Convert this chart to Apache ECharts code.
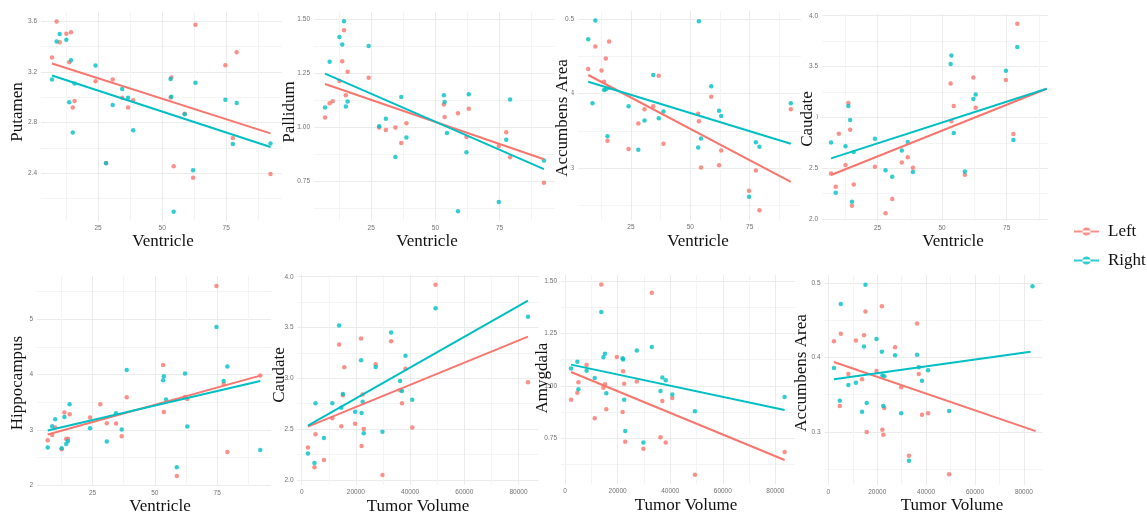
<!DOCTYPE html>
<html><head><meta charset="utf-8">
<script src="https://cdn.jsdelivr.net/npm/echarts@6/dist/echarts.min.js"></script>
<style>html,body{margin:0;padding:0;background:#fff}#c{width:1147px;height:514px}</style>
</head><body><div id="c"></div>
<script>
// ---------- data ----------
const seriesNames = ['Left', 'Right'];
const ventricle = [7.0, 8.8, 10.0, 12.6, 13.7, 14.4, 15.1, 15.8, 24.0, 28.1, 30.7, 34.4, 36.7, 38.7, 53.3, 53.6, 54.5, 58.8, 62.1, 63.0, 74.7, 77.6, 79.1, 92.3];
const tumorVolume = [2300, 4700, 5100, 8200, 11300, 13800, 14600, 15200, 15700, 19700, 21900, 22100, 22500, 22900, 27300, 29800, 33000, 36300, 37000, 38300, 40800, 49400, 83500];

const putamenLeft  = [3.315, 3.600, 3.436, 3.502, 3.278, 3.515, 2.918, 2.971, 3.127, 2.479, 3.140, 2.995, 2.918, 2.976, 2.997, 3.156, 2.453, 2.870, 2.363, 3.574, 3.254, 2.677, 3.357, 2.392];
const putamenRight = [3.140, 3.441, 3.500, 3.455, 2.960, 3.293, 2.720, 3.108, 3.251, 2.477, 2.939, 3.066, 2.995, 2.738, 3.145, 3.003, 2.093, 2.865, 2.421, 3.114, 2.981, 2.630, 2.955, 2.633];
const pallidumLeft  = [1.045, 1.111, 1.120, 1.214, 1.305, 1.448, 1.148, 1.256, 1.229, 0.999, 0.988, 0.999, 0.928, 1.019, 1.105, 1.048, null, 1.065, 0.956, 1.086, 0.914, 0.977, 0.862, 0.745];
const pallidumRight = [1.091, 1.302, null, 1.417, 1.382, 1.489, 1.096, 1.119, 1.375, 1.005, 1.040, 0.863, 1.140, 0.953, 1.148, 1.117, 0.974, 0.613, 0.885, 1.153, 0.656, 0.943, 1.128, 0.847];
const accumbensLeft  = [0.433, null, 0.463, 0.431, 0.416, 0.447, 0.337, 0.470, 0.326, 0.360, 0.379, 0.383, 0.424, 0.333, 0.373, 0.363, 0.301, 0.396, 0.304, 0.324, 0.270, 0.297, 0.244, 0.379];
const accumbensRight = [0.473, 0.387, 0.498, null, 0.405, 0.406, 0.343, 0.408, 0.383, 0.325, 0.364, 0.425, 0.367, 0.376, 0.328, 0.497, 0.340, 0.410, 0.377, 0.370, 0.262, 0.335, 0.329, 0.387];
const caudateVLeft  = [2.449, 2.318, 2.839, 2.531, 3.141, 2.879, 2.131, 2.341, 2.515, 2.056, 2.197, 2.557, 2.607, 2.505, 3.334, 2.961, 3.111, 2.436, 3.393, 3.095, 3.367, 2.836, 3.921, null];
const caudateVRight = [2.754, 2.259, null, 2.715, 3.111, 2.974, 2.170, 2.659, 2.790, 2.479, 2.416, 2.675, 2.757, 2.462, 3.525, 3.610, 2.846, 2.469, 3.180, 3.226, 3.459, 2.777, 3.692, null];
const hippocampusLeft  = [2.813, 2.910, 3.042, 2.651, 3.313, 2.837, 2.840, 3.283, 3.223, 3.464, 3.120, 3.114, 2.886, 3.590, 4.175, 3.325, null, 2.169, 3.596, 3.560, 5.602, 3.831, 2.602, 3.982];
const hippocampusRight = [2.680, 3.066, 3.193, 2.669, 3.235, 2.747, 2.795, 3.464, 3.030, null, 2.789, 3.301, 3.006, 4.084, 3.898, 3.970, 3.548, 2.325, 4.018, 3.060, 4.861, 3.886, 4.145, 2.639];

const caudateTLeft  = [2.318, 2.125, 2.449, 2.197, 2.607, 3.334, 2.528, 2.833, 3.108, 2.554, 3.393, 2.334, 2.840, 2.502, 3.138, 2.049, 3.364, 2.882, 2.754, 3.095, 2.515, 3.921, 2.961];
const caudateTRight = [2.259, 2.167, 2.754, 2.413, 2.754, 3.521, 2.711, 2.846, null, 2.672, 3.177, 2.659, 2.770, 2.459, 3.111, 2.475, 3.452, 2.974, 2.875, 3.223, 2.790, 3.689, 3.607];
const amygdalaLeft  = [0.934, 0.967, 1.017, 1.099, 0.845, 1.483, 0.991, 1.007, 0.888, 1.137, 0.875, 1.069, 1.010, 0.733, 1.020, 0.700, 1.444, 0.754, 0.927, 0.729, 0.942, 0.576, 0.684];
const amygdalaRight = [1.083, 1.115, 0.983, 1.072, 1.037, 1.352, 1.136, 1.153, 0.964, null, 1.131, 1.125, 0.934, 0.784, 1.169, 0.730, 1.185, 0.975, 1.040, 1.026, 0.959, 0.878, 0.947];
const accumbensTLeft  = [0.422, 0.335, 0.432, 0.378, 0.423, 0.371, 0.430, 0.462, 0.300, 0.382, 0.469, 0.303, 0.296, 0.332, 0.414, 0.360, 0.268, 0.446, 0.378, 0.323, 0.325, 0.243, null];
const accumbensTRight = [0.386, 0.342, 0.472, 0.363, 0.366, 0.327, 0.415, 0.498, 0.339, 0.425, 0.408, 0.376, 0.335, 0.375, 0.403, 0.325, 0.261, 0.404, 0.387, 0.369, 0.383, 0.328, 0.496];

// fitted line end points
const putamenFitLeft = [[7.0, 3.267], [92.3, 2.714]];
const putamenFitRight = [[7.0, 3.172], [92.3, 2.606]];
const pallidumFitLeft = [[7.0, 1.200], [92.3, 0.853]];
const pallidumFitRight = [[7.0, 1.248], [92.3, 0.807]];
const accumbensFitLeft = [[7.0, 0.425], [92.3, 0.282]];
const accumbensFitRight = [[7.0, 0.416], [92.3, 0.333]];
const caudateVFitLeft = [[7.0, 2.433], [90.5, 3.282]];
const caudateVFitRight = [[7.0, 2.597], [90.5, 3.282]];
const hippocampusFitLeft = [[7.0, 2.916], [92.3, 3.982]];
const hippocampusFitRight = [[7.0, 2.988], [92.3, 3.886]];
const caudateTFitLeft = [[2300, 2.525], [83500, 3.410]];
const caudateTFitRight = [[2300, 2.534], [83500, 3.764]];
const amygdalaFitLeft = [[2300, 1.066], [83500, 0.646]];
const amygdalaFitRight = [[2300, 1.101], [83500, 0.885]];
const accumbensTFitLeft = [[2300, 0.394], [84800, 0.301]];
const accumbensTFitRight = [[2300, 0.371], [82700, 0.408]];

// tick steps per panel (major), y then x
const yTickSteps = [0.4, 0.25, 0.1, 0.5, 1, 0.5, 0.25, 0.1];
const yTickDecimals = [1, 2, 1, 1, 0, 1, 2, 1];
const xTickSteps = [25, 25, 25, 25, 25, 20000, 20000, 20000];
const yTitles = ['Putamen', 'Pallidum', 'Accumbens Area', 'Caudate', 'Hippocampus', 'Caudate', 'Amygdala', 'Accumbens Area'];
const xTitles = ['Ventricle', 'Ventricle', 'Ventricle', 'Ventricle', 'Ventricle', 'Tumor Volume', 'Tumor Volume', 'Tumor Volume'];

// ---------- layout ----------
const RED = '#F8766D', CYAN = '#00BFC4';
const panels = [
  {x: ventricle, L: putamenLeft, R: putamenRight, fL: putamenFitLeft, fR: putamenFitRight, g: {left: 41, top: 12, width: 241, height: 209}, xr: [2.7, 96.8], yr: [2.02, 3.675], xt: [163, 242], yt: [18, 112], bg: false},
  {x: ventricle, L: pallidumLeft, R: pallidumRight, fL: pallidumFitLeft, fR: pallidumFitRight, g: {left: 314, top: 12, width: 241, height: 209}, xr: [2.7, 96.6], yr: [0.568, 1.532], xt: [427, 242], yt: [289.5, 112], bg: false},
  {x: ventricle, L: accumbensLeft, R: accumbensRight, fL: accumbensFitLeft, fR: accumbensFitRight, g: {left: 578, top: 11, width: 223, height: 209}, xr: [2.7, 96.6], yr: [0.2308, 0.5107], xt: [698, 242], yt: [563, 118], bg: true},
  {x: ventricle, L: caudateVLeft, R: caudateVRight, fL: caudateVFitLeft, fR: caudateVFitRight, g: {left: 822, top: 14, width: 226, height: 207}, xr: [3.5, 91], yr: [1.981, 4.017], xt: [953, 242], yt: [808, 119], bg: true},
  {x: ventricle, L: hippocampusLeft, R: hippocampusRight, fL: hippocampusFitLeft, fR: hippocampusFitRight, g: {left: 37, top: 276, width: 234, height: 210}, xr: [2.7, 96.6], yr: [1.986, 5.783], xt: [160, 507], yt: [18, 383], bg: false},
  {x: tumorVolume, L: caudateTLeft, R: caudateTRight, fL: caudateTFitLeft, fR: caudateTFitRight, g: {left: 297.5, top: 275, width: 241, height: 210}, xr: [-1550, 87380], yr: [1.95, 4.017], xt: [418, 507], yt: [280, 375], bg: false},
  {x: tumorVolume, L: amygdalaLeft, R: amygdalaRight, fL: amygdalaFitLeft, fR: amygdalaFitRight, g: {left: 561, top: 275, width: 234, height: 209}, xr: [-1520, 87450], yr: [0.5315, 1.5286], xt: [686, 506], yt: [543, 378], bg: false},
  {x: tumorVolume, L: accumbensTLeft, R: accumbensTRight, fL: accumbensTFitLeft, fR: accumbensTFitRight, g: {left: 824.5, top: 275, width: 218, height: 210}, xr: [-1554, 87600], yr: [0.2285, 0.5112], xt: [952, 506], yt: [802, 373], bg: false}
];

function pairs(xs, ys) {
  return xs.map((x, i) => [x, ys[i]]).filter(p => p[1] != null);
}
function makeAxis(i, range, step, fmt) {
  return {
    type: 'value', gridIndex: i, min: range[0], max: range[1],
    minInterval: step, maxInterval: step, splitNumber: 5,
    axisLine: {show: false}, axisTick: {show: false},
    axisLabel: {show: true, fontSize: 6.5, color: '#707070', margin: 4, fontFamily: 'Liberation Sans',
      showMinLabel: false, showMaxLabel: false, formatter: fmt},
    splitLine: {show: true, showMinLine: false, showMaxLine: false, lineStyle: {color: '#ebebeb', width: 1}},
    minorTick: {show: false, splitNumber: 2},
    minorSplitLine: {show: true, lineStyle: {color: '#f4f4f4', width: 1}}
  };
}

const grid = [], xAxis = [], yAxis = [], series = [], graphic = [];
panels.forEach((p, i) => {
  grid.push(Object.assign({containLabel: false}, p.g));
  xAxis.push(makeAxis(i, p.xr, xTickSteps[i], v => String(Math.round(v))));
  const d = yTickDecimals[i];
  yAxis.push(makeAxis(i, p.yr, yTickSteps[i], v => v.toFixed(d)));
  series.push({type: 'scatter', name: seriesNames[0], xAxisIndex: i, yAxisIndex: i, data: pairs(p.x, p.L), symbolSize: 4.5, itemStyle: {color: RED}, z: 2, silent: true});
  series.push({type: 'scatter', name: seriesNames[1], xAxisIndex: i, yAxisIndex: i, data: pairs(p.x, p.R), symbolSize: 4.5, itemStyle: {color: CYAN}, z: 2, silent: true});
  series.push({type: 'line', name: seriesNames[0], xAxisIndex: i, yAxisIndex: i, data: p.fL, symbol: 'none', lineStyle: {color: RED, width: 2}, itemStyle: {color: RED}, z: 3, silent: true});
  series.push({type: 'line', name: seriesNames[1], xAxisIndex: i, yAxisIndex: i, data: p.fR, symbol: 'none', lineStyle: {color: CYAN, width: 2}, itemStyle: {color: CYAN}, z: 3, silent: true});
  graphic.push({type: 'text', x: p.xt[0], y: p.xt[1], z: 100,
    style: {text: xTitles[i], fontFamily: 'Liberation Serif', fontSize: 17, fill: '#111', align: 'center', verticalAlign: 'middle'}});
  const ys = {text: yTitles[i], fontFamily: 'Liberation Serif', fontSize: 17, fill: '#111', align: 'center', verticalAlign: 'middle'};
  if (p.bg) ys.backgroundColor = '#fff';
  graphic.push({type: 'text', x: p.yt[0], y: p.yt[1], rotation: Math.PI / 2, z: 100, style: ys});
});

const chart = echarts.init(document.getElementById('c'), null, {renderer: 'canvas'});
chart.setOption({
  animation: false,
  backgroundColor: '#fff',
  grid, xAxis, yAxis, series, graphic,
  legend: {
    data: seriesNames, orient: 'vertical', left: 1069, top: 218,
    itemWidth: 25, itemHeight: 8, itemGap: 12,
    icon: 'path://M0,3H25V5H0Z M8.5,4a4,4 0 1,0 8,0a4,4 0 1,0 -8,0Z',
    textStyle: {fontFamily: 'Liberation Serif', fontSize: 17, color: '#111', padding: [0, 0, 0, 4]}
  }
});
</script>
</body></html>
